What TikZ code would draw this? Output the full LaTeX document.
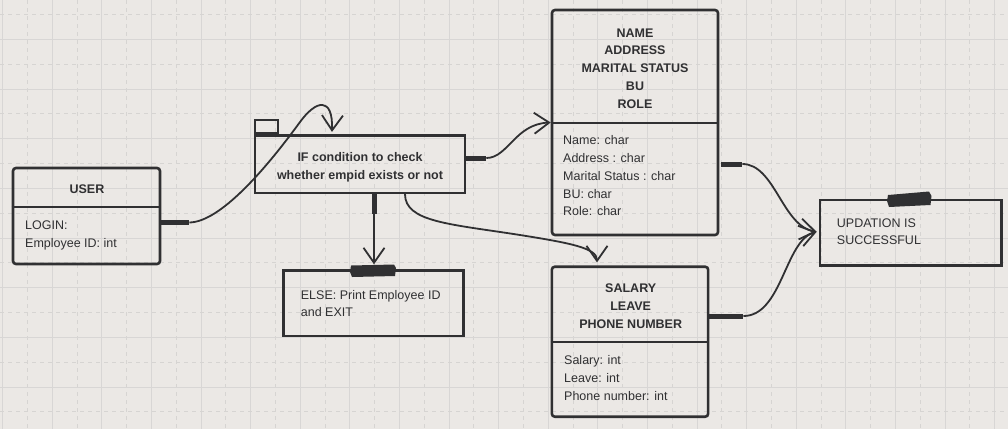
\documentclass[tikz,border=0pt]{standalone}
\usepackage{fontspec}
\setmainfont{Liberation Sans}
\usetikzlibrary{arrows.meta,calc}
\definecolor{bg}{RGB}{235,232,229}
\definecolor{gridc}{RGB}{216,214,213}
\definecolor{gridd}{RGB}{214,212,210}
\definecolor{ink}{RGB}{48,48,50}
\begin{document}
\begin{tikzpicture}[x=1pt,y=-1pt,
 box/.style={draw=ink, line width=2.6pt, inner sep=0pt, rounded corners=3pt},
 sqbox/.style={draw=ink, line width=2.6pt, inner sep=0pt},
 txt/.style={text=ink, font=\fontsize{12.5}{17.8}\selectfont, inner sep=0pt, align=left},
 ttl/.style={text=ink, font=\fontsize{12.5}{17.8}\selectfont\bfseries, inner sep=0pt, align=center},
 divider/.style={draw=ink, line width=2.4pt},
 conn/.style={draw=ink, line width=1.8pt},
 stub/.style={draw=ink, line width=5pt},
 arr/.style={-{Straight Barb[length=15pt,width=21pt]}},
 tape/.style={fill=ink}
]
\useasboundingbox (0,0) rectangle (1008,429);
\fill[bg] (0,0) rectangle (1008,429);
\begin{scope}
\clip (0,0) rectangle (1008,429);
\foreach \i in {0,...,20} {
  \draw[gridc, line width=1pt] ({2.7+49.6*\i},0) -- ++(0,429);
  \draw[gridd, line width=1pt, dash pattern=on 4pt off 4pt] ({27.5+49.6*\i},0) -- ++(0,429);
}
\foreach \j in {0,...,8} {
  \draw[gridc, line width=1pt] (0,{39.5+49.65*\j}) -- ++(1008,0);
  \draw[gridd, line width=1pt, dash pattern=on 4pt off 4pt] (0,{14.5+49.65*\j}) -- ++(1008,0);
}
\end{scope}

% USER
\node[box, minimum width=147pt, minimum height=96pt] (user) at (86.5,216) {};
\draw[divider] ($(user.north west)+(0,40)$) -- ($(user.north east)+(0,40)$);
\node[ttl] (usert) at (87,189) {USER};
\node[txt, anchor=north west] (usera) at (25,220.5) {LOGIN:\\Employee ID: int};

% IF
\node[sqbox, minimum width=210pt, minimum height=57.6pt] (ifbox) at (360,164) {};
\node[sqbox, line width=2.2pt, minimum width=23pt, minimum height=13pt, anchor=south west] (iftab) at (ifbox.north west) {};
\node[ttl, anchor=north] (ift) at (360,152.2) {IF condition to check\\whether empid exists or not};

% NAME box
\node[box, minimum width=166pt, minimum height=225pt] (namebox) at (635,122.5) {};
\draw[divider] ($(namebox.north west)+(0,114)$) -- ($(namebox.north east)+(0,114)$);
\node[ttl, anchor=north] (namet) at (635,28.2) {NAME\\ADDRESS\\MARITAL STATUS\\BU\\ROLE};
\node[txt, anchor=north west] (namea) at (563,135.5) {Name: char\\Address : char\\Marital Status : char\\BU: char\\Role: char};

% SALARY box
\node[box, minimum width=156.3pt, minimum height=150pt] (salbox) at (630,341.7) {};
\draw[divider] ($(salbox.north west)+(0,76.6)$) -- ($(salbox.north east)+(0,76.6)$);
\node[ttl, anchor=north] (salt) at (630.7,283.8) {SALARY\\LEAVE\\PHONE NUMBER};
\node[txt, anchor=north west] (sala) at (564,355.5) {Salary: int\\Leave: int\\Phone number: int};

% ELSE box
\node[sqbox, minimum width=180pt, minimum height=65.3pt] (elsebox) at (373.3,303.3) {};
\node[txt, anchor=north west] (elset) at (300.7,289.8) {ELSE: Print Employee ID\\and EXIT};
\fill[tape] (351,265.5) -- (394,264.5) -- (396,268) -- (395,276) -- (352,277) -- (350,272) -- cycle;

% UPDATION box
\node[sqbox, minimum width=181.7pt, minimum height=65.7pt] (upd) at (910.8,232.8) {};
\node[txt, anchor=north west] (updt) at (836.7,218.2) {UPDATION IS\\SUCCESSFUL};
\fill[tape] (888,195) -- (929,191.5) -- (931.5,196) -- (930.5,205) -- (889,207) -- (887,201) -- cycle;

% connectors
\draw[stub] ($(user.east)+(0,6.5)$) -- ++(28,0) coordinate (s1e);
\draw[conn, arr] (s1e) .. controls (220,222) and (265,170) .. (300,122)
   .. controls (316,100) and (333,96) .. ($(ifbox.north)+(-28,-2)$);

\draw[stub] ($(ifbox.east)+(0,-6)$) -- ++(20,0) coordinate (s2e);
\draw[conn, arr] (s2e) .. controls (508,158) and (515,124) .. (namebox.west);

\draw[stub] ($(ifbox.south)+(14,0)$) -- ++(0,20) coordinate (s3e);
\draw[conn, arr] (s3e) -- ($(elsebox.north)+(0.7,-5)$);

\draw[conn, arr] ($(ifbox.south)+(45,0)$) .. controls (405,222) and (450,224) .. (520,235)
   .. controls (570,243) and (597,248) .. ($(salbox.north)+(-33,-3)$);

\draw[stub] ($(namebox.east)+(2,41.5)$) -- ++(21,0) coordinate (s5e);
\draw[conn, arr] (s5e) .. controls (775,164) and (782,226) .. ($(upd.west)+(-2,-1)$);

\draw[stub] ($(salbox.east)+(0,-25.7)$) -- ++(34,0) coordinate (s6e);
\draw[conn, arr] (s6e) .. controls (782,316) and (785,240) .. ($(upd.west)+(-2,-1)$);
\end{tikzpicture}
\end{document}
